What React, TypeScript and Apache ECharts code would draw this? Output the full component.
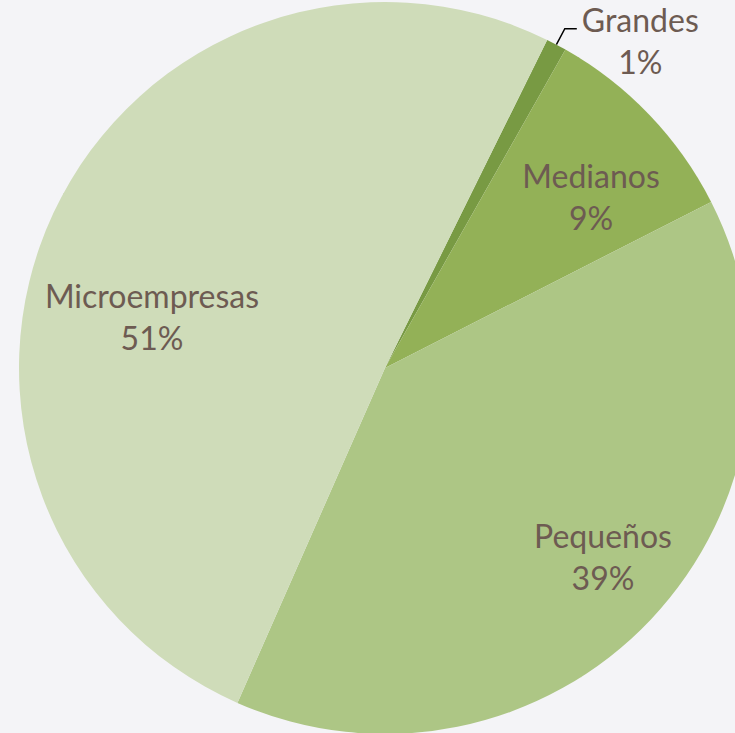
import React, { useEffect, useRef } from "react";
import * as echarts from "echarts";

const categories = ["Grandes", "Medianos", "Pequeños", "Microempresas"];
const values = [0.9, 9.3, 39.1, 50.7];
const colors = ["#789a43", "#93b157", "#adc685", "#cfdcb9"];
// label centre positions (layout only)
const labelPos: ([number, number] | null)[] = [null, [591, 196], [603, 556], [152, 316]];

export default function App() {
  const ref = useRef<HTMLDivElement>(null);
  useEffect(() => {
    if (!ref.current) return;
    const chart = echarts.init(ref.current, undefined, { renderer: "svg" });
    const total = values.reduce((a, b) => a + b, 0);
    const txt = { color: "#6d5b52", fontFamily: "Lato", fontSize: 32, lineHeight: 42 };
    chart.setOption({
      animation: false,
      backgroundColor: "#f4f4f7",
      series: [
        {
          type: "pie",
          center: [385, 368],
          radius: [0, 366],
          startAngle: 63.7,
          clockwise: true,
          avoidLabelOverlap: false,
          itemStyle: { borderWidth: 0 },
          label: {
            show: true,
            position: "inside",
            ...txt,
            formatter: (p: any) =>
              `{n|${p.name}}\n{p|${Math.round((p.value / total) * 100)}%}`,
            rich: {
              n: { ...txt, align: "center" },
              p: { ...txt, align: "center" },
            },
          },
          labelLayout: (p: any) => {
            const pos = labelPos[p.dataIndex];
            return pos ? { x: pos[0], y: pos[1] } : { dy: 12 };
          },
          data: categories.map((name, i) => ({
            name,
            value: values[i],
            itemStyle: { color: colors[i] },
            ...(i === 0
              ? {
                  label: { position: "outside" },
                  labelLine: {
                    show: true,
                    length: 18,
                    length2: 12,
                    lineStyle: { color: "#000", width: 1.5 },
                  },
                }
              : {}),
          })),
        },
      ],
    });
    return () => chart.dispose();
  }, []);
  return (
    <div
      ref={ref}
      style={{ position: "fixed", left: 0, top: 0, width: 735, height: 733 }}
    />
  );
}
